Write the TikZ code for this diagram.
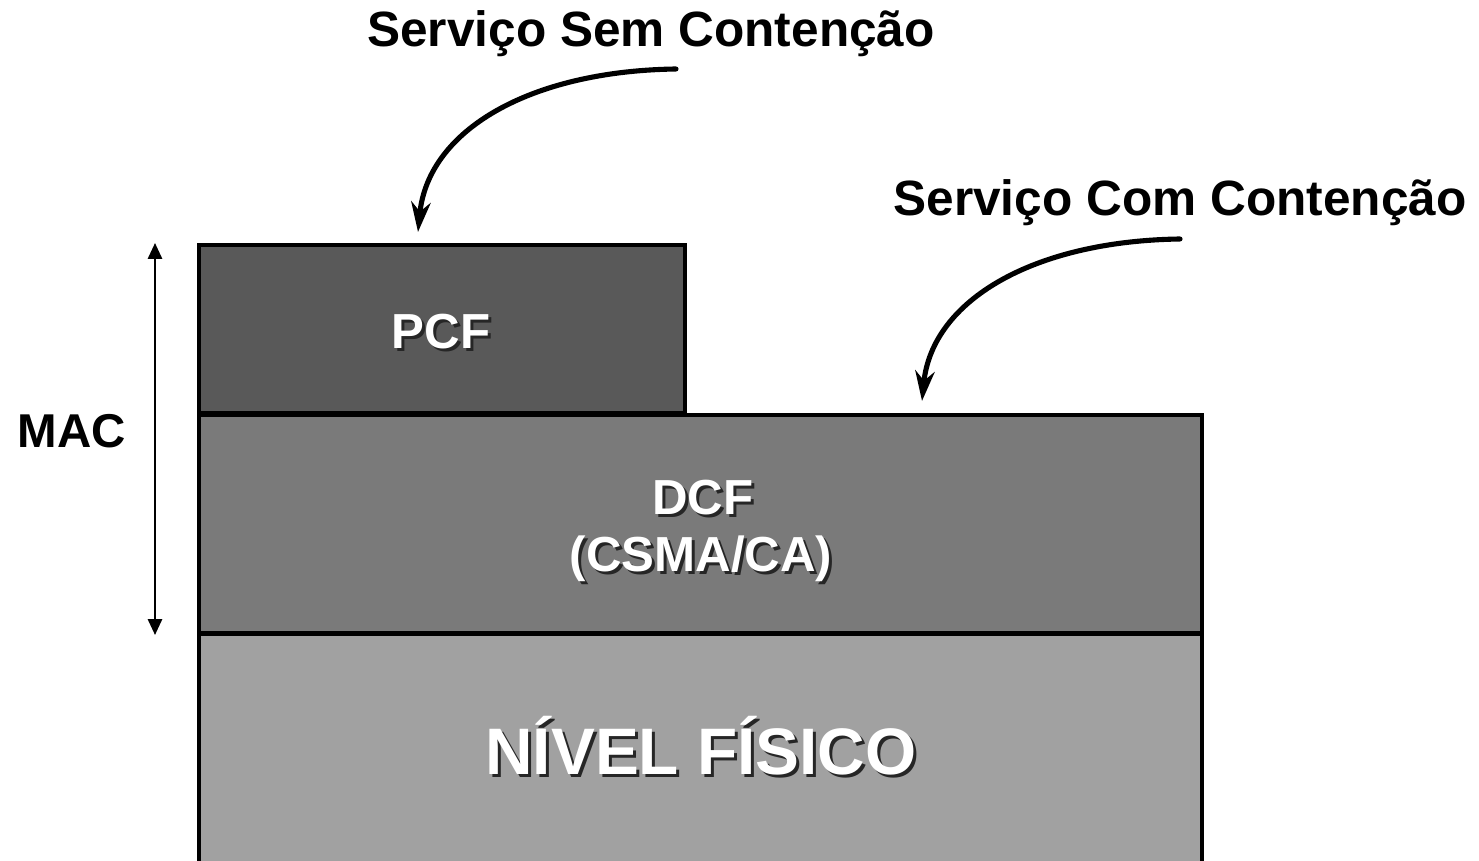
\documentclass[tikz,border=0pt]{standalone}
\usepackage{fontspec}
\setmainfont{Liberation Sans}
\usetikzlibrary{arrows.meta}

\definecolor{pcfgray}{HTML}{595959}
\definecolor{dcfgray}{HTML}{7A7A7A}
\definecolor{phygray}{HTML}{A1A1A1}

\tikzset{
  layer/.style={draw=black, line width=0.9pt},
  title/.style={anchor=base, font=\bfseries\fontsize{14.1}{17}\selectfont},
  lbl/.style={anchor=base, text=white, font=\bfseries\fontsize{14}{17}\selectfont},
  shade/.style={anchor=base, text=black!85, font=\bfseries\fontsize{14}{17}\selectfont},
  servarrow/.style={line width=1.45pt, line cap=round, -{Stealth[length=8.5pt,width=5.5pt,inset=2.7pt]}}
}

\begin{document}
\begin{tikzpicture}[x=0.01cm, y=-0.01cm]
\useasboundingbox (0,0) rectangle (1479,861);

% layers
\filldraw[layer, fill=phygray] (199,634) rectangle (1202,900);
\filldraw[layer, fill=dcfgray] (199,415) rectangle (1202,633);
\filldraw[layer, fill=pcfgray] (199,245) rectangle (685,413);

% text in the layers, with a shadow
\node[shade] (pcfs) at (444,352) {PCF};
\node[lbl] (pcf) at (441,349) {PCF};
\node[shade] (dcfs) at (706,517) {DCF};
\node[lbl] (dcf) at (703,514) {DCF};
\node[shade] (csmas) at (704,574) {(CSMA/CA)};
\node[lbl] (csma) at (701,571) {(CSMA/CA)};
\node[shade, font=\bfseries\fontsize{18.7}{22}\selectfont] (phys) at (704,777) {NÍVEL FÍSICO};
\node[lbl, font=\bfseries\fontsize{18.7}{22}\selectfont] (phy) at (701,774) {NÍVEL FÍSICO};

% MAC
\node[title, font=\bfseries\fontsize{13.5}{16}\selectfont] (mac) at (72,448) {MAC};
\coordinate (mactop) at (155,243);
\coordinate (macbot) at (155,635);
\draw[line width=0.65pt, {Triangle[length=4.5pt,width=4pt]}-{Triangle[length=4.5pt,width=4pt]}] (mactop) -- (macbot);

% services
\node[title] (sem) at (651,47) {Serviço Sem Contenção};
\node[title] (com) at (1180,216) {Serviço Com Contenção};
\coordinate (semstart) at (676,69);
\coordinate (semend) at (418,232);
\coordinate (comstart) at (1180,239);
\coordinate (comend) at (922,401);
\draw[servarrow] (semstart) .. controls (530,71) and (428,130) .. (semend);
\draw[servarrow] (comstart) .. controls (1034,241) and (932,300) .. (comend);
\end{tikzpicture}
\end{document}
